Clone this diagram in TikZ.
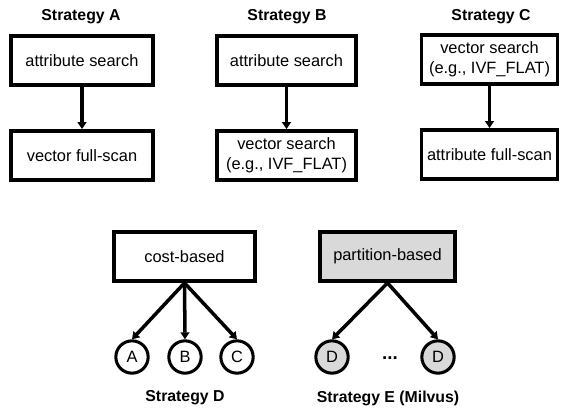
\documentclass[tikz,border=0pt]{standalone}
\usepackage{fontspec}
\setmainfont{Liberation Sans}
\usetikzlibrary{arrows.meta}

\begin{document}
\begin{tikzpicture}[x=0.03cm, y=-0.03cm,
  box/.style={draw, line width=3.3pt, minimum width=4.2cm, minimum height=1.47cm,
    inner sep=0pt, align=center, font=\fontsize{14}{17}\selectfont},
  leaf/.style={draw, circle, line width=2.6pt, minimum size=0.97cm, inner sep=0pt,
    font=\fontsize{14}{17}\selectfont},
  title/.style={font=\fontsize{13.5}{16}\selectfont\bfseries},
  arr/.style={line width=3pt, -{Triangle[length=6pt,width=7.5pt]}},
  shade/.style={fill=gray!30}]
\useasboundingbox (0,0) rectangle (561,411);

% Strategy A
\node[title] (ta) at (81,17) {Strategy A};
\node[box, minimum width=4.26cm] (a1) at (82,60.5)  {attribute search};
\node[box, minimum width=4.26cm] (a2) at (82,155.5) {vector full-scan};
\draw[arr] (a1) -- (a2);

% Strategy B
\node[title] (tb) at (287,17) {Strategy B};
\node[box, minimum width=4.17cm] (b1) at (286.5,60.5)  {attribute search};
\node[box, minimum width=4.17cm] (b2) at (286.5,155.5) {vector search\\(e.g., IVF\_FLAT)};
\draw[arr] (b1) -- (b2);

% Strategy C
\node[title] (tc) at (491,17) {Strategy C};
\node[box, minimum width=4.08cm] (c1) at (489.5,59.5)  {vector search\\(e.g., IVF\_FLAT)};
\node[box, minimum width=4.08cm] (c2) at (489.5,154.5) {attribute full-scan};
\draw[arr] (c1) -- (c2);

%------------------------------------------------------
% Strategy D
\node[box, minimum width=4.23cm] (cost) at (184.5,256.5) {cost-based};
\node[leaf] (da) at (132,357) {A};
\node[leaf] (db) at (185,357) {B};
\node[leaf] (dc) at (237,357) {C};
\draw[arr] (cost.south) -- (da.north);
\draw[arr] (cost.south) -- (db.north);
\draw[arr] (cost.south) -- (dc.north);
\node[title] (td) at (185,398) {Strategy D};

% Strategy E
\node[box, shade, minimum width=4.05cm] (part) at (387.5,256.5) {partition-based};
\node[leaf, shade] (e1) at (332,357) {D};
\node[leaf, shade] (e2) at (438,357) {D};
\node[font=\fontsize{16}{17}\selectfont\bfseries] (dots) at (390,358) {...};
\draw[arr] (part.south) -- (e1.north);
\draw[arr] (part.south) -- (e2.north);
\node[title] (te) at (388,398) {Strategy E (Milvus)};
\end{tikzpicture}
\end{document}
